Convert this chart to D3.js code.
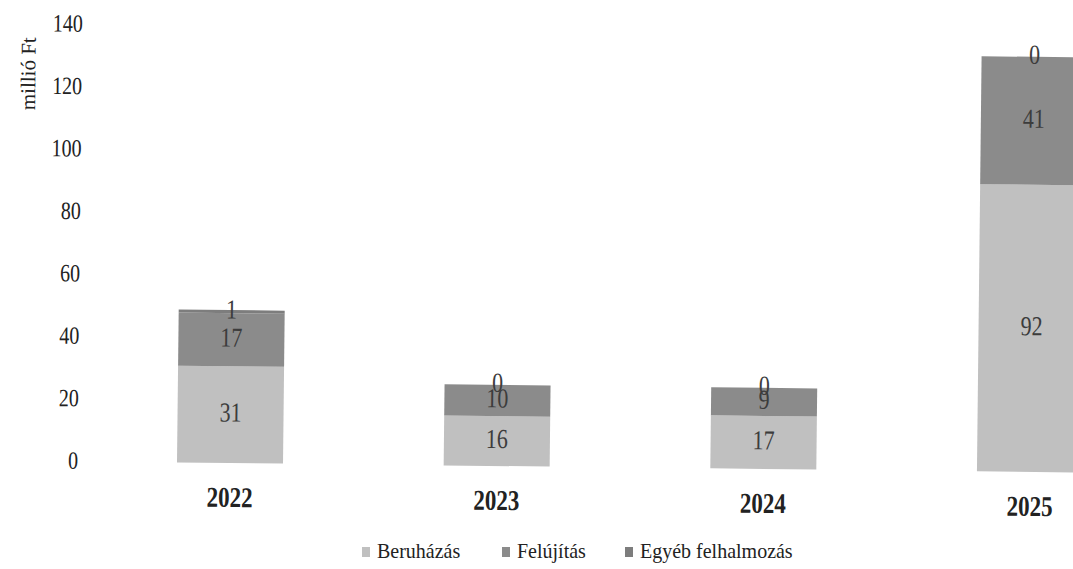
<!DOCTYPE html>
<html>
<head>
<meta charset="utf-8">
<script src="https://cdn.jsdelivr.net/npm/d3@7"></script>
<style>
  body { margin: 0; background: #fff; }
</style>
</head>
<body>
<div id="chart"></div>
<script>
var years = ['2022', '2023', '2024', '2025'];
var seriesNames = ['Beruházás', 'Felújítás', 'Egyéb felhalmozás'];
var beruhazas = [31, 16, 17, 92];
var felujitas = [17, 10, 9, 41];
var egyeb = [1, 0, 0, 0];
var yTicks = [0, 20, 40, 60, 80, 100, 120, 140];

var width = 1073, height = 569;
var colors = ['#c0c0c0', '#8b8b8b', '#7d7d7d'];
var serif = '"Liberation Serif", "DejaVu Serif", serif';
var stretch = 1.25; // scanned text is taller than wide

var svg = d3.select('#chart').append('svg')
    .attr('width', width)
    .attr('height', height)
    .style('font-family', serif);

// the scan is tilted a little, so tilt the plot the same way
var plot = svg.append('g')
    .attr('transform', 'rotate(0.64, 230, 463)');

var x = d3.scalePoint()
    .domain(years)
    .range([230, 1030]);
var barWidth = 106;

var y = d3.scaleLinear()
    .domain([0, 140])
    .range([463, 26]);

var rows = years.map(function(yr, i) {
    return { year: yr, 'Beruházás': beruhazas[i], 'Felújítás': felujitas[i], 'Egyéb felhalmozás': egyeb[i] };
});
var stacked = d3.stack().keys(seriesNames)(rows);

// y axis: labels only, no line or ticks
var yAxis = plot.append('g')
    .attr('transform', 'translate(78,0)')
    .call(d3.axisLeft(y).tickValues(yTicks).tickSize(0).tickPadding(0));
yAxis.attr('font-family', null).attr('font-size', null);
yAxis.select('.domain').remove();
yAxis.selectAll('.tick text')
    .attr('fill', '#222')
    .attr('dy', null)
    .attr('x', 0)
    .style('font-family', serif)
    .style('font-size', '20px')
    .attr('transform', 'translate(0,7) scale(1,' + stretch + ')');

plot.append('text')
    .attr('transform', 'translate(31,76) rotate(-90)')
    .attr('text-anchor', 'middle')
    .style('font-size', '21px')
    .attr('fill', '#222')
    .text('millió Ft');

// stacked bars
var layer = plot.selectAll('.layer')
    .data(stacked)
    .enter().append('g')
    .attr('class', 'layer')
    .attr('fill', function(d, i) { return colors[i]; });

layer.selectAll('rect')
    .data(function(d) { return d; })
    .enter().append('rect')
    .attr('x', function(d) { return x(d.data.year) - barWidth / 2; })
    .attr('y', function(d) { return y(d[1]); })
    .attr('width', barWidth)
    .attr('height', function(d) { return y(d[0]) - y(d[1]); });

// value labels
stacked.forEach(function(s) {
    plot.selectAll(null)
        .data(s)
        .enter().append('text')
        .attr('text-anchor', 'middle')
        .attr('fill', '#3c3c3c')
        .style('font-size', '22px')
        .attr('transform', function(d) {
            var cy = (y(d[0]) + y(d[1])) / 2 + 7;
            return 'translate(' + x(d.data.year) + ',' + cy + ') scale(1,' + stretch + ')';
        })
        .text(function(d) { return d[1] - d[0]; });
});

// x labels
plot.selectAll('.xlab')
    .data(years)
    .enter().append('text')
    .attr('class', 'xlab')
    .attr('text-anchor', 'middle')
    .attr('fill', '#222')
    .style('font-size', '23px')
    .style('font-weight', 'bold')
    .attr('transform', function(d) { return 'translate(' + x(d) + ',507) scale(1,' + stretch + ')'; })
    .text(function(d) { return d; });

// legend
var legendX = [362, 502, 625];
var legend = svg.selectAll('.leg')
    .data(seriesNames)
    .enter().append('g')
    .attr('class', 'leg')
    .attr('transform', function(d, i) { return 'translate(' + legendX[i] + ',547)'; });
legend.append('rect')
    .attr('width', 8)
    .attr('height', 10)
    .attr('fill', function(d, i) { return colors[i]; });
legend.append('text')
    .attr('x', 15)
    .attr('y', 10)
    .attr('fill', '#222')
    .style('font-size', '20px')
    .attr('transform', 'scale(1,1.1)')
    .text(function(d) { return d; });
</script>
</body>
</html>
